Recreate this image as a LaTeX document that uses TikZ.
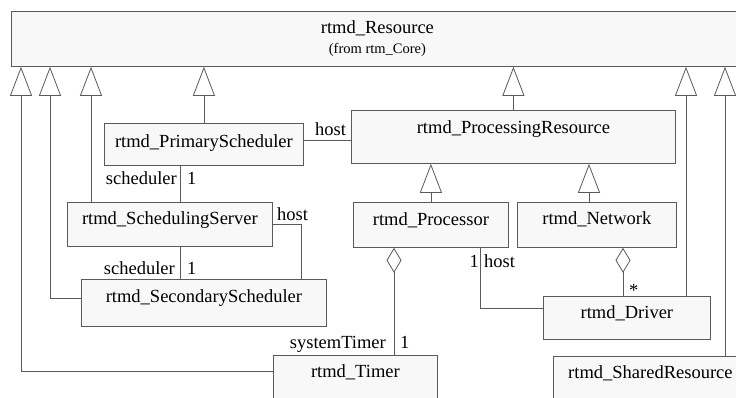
\documentclass[tikz,border=0pt]{standalone}
\usepackage{fontspec}
\setmainfont{Liberation Serif}
\usetikzlibrary{arrows.meta}
\definecolor{edge}{HTML}{5A5A5A}
\definecolor{boxfill}{HTML}{F8F8F8}
\begin{document}
\begin{tikzpicture}[x=1pt,y=-1pt,
  cls/.style={draw=edge, fill=boxfill, line width=0.8pt, anchor=north west, inner sep=0pt},
  title/.style={anchor=base, inner sep=0pt, font=\fontsize{18.5}{20}\selectfont},
  subtitle/.style={anchor=base, inner sep=0pt, font=\fontsize{14.5}{16}\selectfont},
  role/.style={inner sep=0pt, font=\fontsize{18.5}{20}\selectfont},
  gen/.style={draw=edge, line width=0.8pt, -{Triangle[open, fill=white, length=29pt, width=22pt]}},
  assoc/.style={draw=edge, line width=0.8pt},
  aggr/.style={draw=edge, line width=0.8pt, {Diamond[open, fill=white, length=25pt, width=15pt]}-}
]
\useasboundingbox (0,0) rectangle (736,397);

% classes
\node[cls, minimum width=732pt, minimum height=55pt] (res) at (11,11) {};
\node[cls, minimum width=199pt, minimum height=42pt] (ps) at (104,123) {};
\node[cls, minimum width=324pt, minimum height=53pt] (pr) at (351,110) {};
\node[cls, minimum width=205pt, minimum height=44pt] (ss) at (67,202) {};
\node[cls, minimum width=245pt, minimum height=47pt] (sec) at (81,279) {};
\node[cls, minimum width=155pt, minimum height=45pt] (proc) at (353,202) {};
\node[cls, minimum width=159pt, minimum height=45pt] (net) at (517,202) {};
\node[cls, minimum width=167pt, minimum height=43pt] (drv) at (543,296) {};
\node[cls, minimum width=164pt, minimum height=60pt] (tim) at (273,355) {};
\node[cls, minimum width=194pt, minimum height=60pt] (shr) at (553,356) {};

% class names
\node[title] (res-t) at ([yshift=-22pt]res.north) {rtmd\_Resource};
\node[subtitle] (res-s) at ([yshift=-42pt]res.north) {(from rtm\_Core)};
\node[title] (ps-t) at ([yshift=-24pt]ps.north) {rtmd\_PrimaryScheduler};
\node[title] (pr-t) at ([yshift=-23pt]pr.north) {rtmd\_ProcessingResource};
\node[title] (ss-t) at ([yshift=-22pt]ss.north) {rtmd\_SchedulingServer};
\node[title] (sec-t) at ([yshift=-23pt]sec.north) {rtmd\_SecondaryScheduler};
\node[title] (proc-t) at ([yshift=-23pt]proc.north) {rtmd\_Processor};
\node[title] (net-t) at ([yshift=-22pt]net.north) {rtmd\_Network};
\node[title] (drv-t) at ([yshift=-22pt]drv.north) {rtmd\_Driver};
\node[title] (tim-t) at ([yshift=-22pt]tim.north) {rtmd\_Timer};
\node[title] (shr-t) at ([yshift=-22pt]shr.north) {rtmd\_SharedResource};

% attachment points on the root class
\path (res.south west) ++(10,0) coordinate (r1);
\path (res.south west) ++(39,0) coordinate (r2);
\path (res.south west) ++(80,0) coordinate (r3);
\path (res.south west) ++(675,0) coordinate (r6);
\path (res.south west) ++(714,0) coordinate (r7);
\path (pr.south west) ++(238,0) coordinate (prN);

% generalizations
\draw[gen] ([yshift=-16pt]tim.north west) -| (r1);
\draw[gen] ([yshift=-19pt]sec.north west) -| (r2);
\draw[gen] (r3 |- ss.north) -- (r3);
\draw[gen] (ps.north) -- (ps.north |- res.south);
\draw[gen] (pr.north) -- (pr.north |- res.south);
\draw[gen] (r6 |- drv.north) -- (r6);
\draw[gen] (r7 |- shr.north) -- (r7);
\draw[gen] (proc.north) -- (proc.north |- pr.south);
\draw[gen] (prN |- net.north) -- (prN);

% association end points
\coordinate (psE) at ([yshift=4pt]ps.east);
\coordinate (psS) at ([xshift=76pt]ps.south west);
\coordinate (ssE) at ([yshift=-22pt]ss.north east);
\coordinate (secN) at ([xshift=220pt]sec.north west);
\coordinate (ssS) at ([xshift=113pt]ss.south west);
\coordinate (procA) at ([xshift=41pt]proc.south west);
\coordinate (procH) at ([xshift=127pt]proc.south west);
\coordinate (drvW) at ([yshift=-12pt]drv.north west);
\coordinate (netA) at ([xshift=106pt]net.south west);

% associations and aggregations
\draw[assoc] (psE) -- (psE -| pr.west);
\draw[assoc] (psS) -- (psS |- ss.north);
\draw[assoc] (ssE) -| (secN);
\draw[assoc] (ssS) -- (ssS |- sec.north);
\draw[aggr] (procA) -- (procA |- tim.north);
\draw[assoc] (procH) |- (drvW);
\draw[aggr] (netA) -- (netA |- drv.north);

% role names and multiplicities
\node[role, anchor=base west] (l-host1) at (315,135) {host};
\node[role, anchor=base east] (l-sch1) at (177,184) {scheduler};
\node[role, anchor=base west] (l-one1) at (187,184) {1};
\node[role, anchor=base west] (l-host2) at (277,220) {host};
\node[role, anchor=base east] (l-sch2) at (175,274) {scheduler};
\node[role, anchor=base west] (l-one2) at (187,274) {1};
\node[role, anchor=base east] (l-tmr) at (386,348) {systemTimer};
\node[role, anchor=base west] (l-one3) at (400,348) {1};
\node[role, anchor=base east] (l-one4) at (479,267) {1};
\node[role, anchor=base west] (l-host3) at (484,267) {host};
\node[role, anchor=base west] (l-many) at (629,296) {*};
\end{tikzpicture}
\end{document}
